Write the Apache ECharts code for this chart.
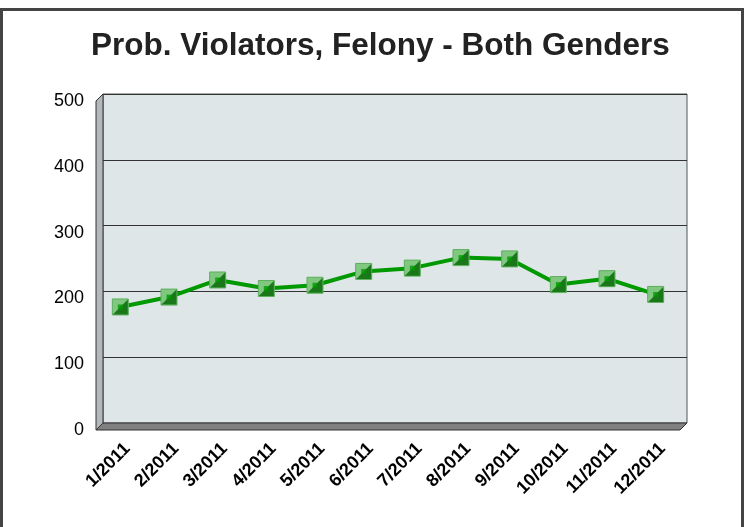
<!DOCTYPE html>
<html>
<head>
<meta charset="utf-8">
<script src="https://cdn.jsdelivr.net/npm/echarts@6/dist/echarts.min.js"></script>
<style>
  html, body { margin: 0; padding: 0; background: #fff; }
  #chart { width: 745px; height: 527px; }
</style>
</head>
<body>
<div id="chart"></div>
<script>
var months = ['1/2011', '2/2011', '3/2011', '4/2011', '5/2011', '6/2011',
              '7/2011', '8/2011', '9/2011', '10/2011', '11/2011', '12/2011'];
var violators = [187, 202, 228, 215, 220, 241, 246, 262, 260, 221, 230, 206];
var yTicks = [0, 100, 200, 300, 400, 500];

var chart = echarts.init(document.getElementById('chart'));

var fontFam = 'Liberation Sans, Arial, sans-serif';

var option = {
    backgroundColor: '#fff',
    animation: false,
    title: {
        text: 'Prob. Violators, Felony - Both Genders',
        left: 86,
        top: 25,
        textStyle: { fontFamily: fontFam, fontSize: 31.5, fontWeight: 'bold', color: '#222' }
    },
    grid: [
        // back wall
        { left: 103, top: 94, right: 58, bottom: 104, show: true, backgroundColor: '#dfe6e8', borderColor: '#555', borderWidth: 1, z: 0 },
        // front plane where data lives
        { left: 96, top: 101, right: 65, bottom: 97 }
    ],
    xAxis: [
        {
            gridIndex: 0, type: 'category', data: months,
            axisLine: { show: false }, axisTick: { show: false },
            axisLabel: {
                rotate: 45, margin: 23, interval: 0,
                fontFamily: fontFam, fontSize: 18, fontWeight: 'bold', color: '#000'
            }
        },
        { gridIndex: 1, type: 'category', data: months, show: false }
    ],
    yAxis: [
        {
            gridIndex: 0, type: 'value', min: yTicks[0], max: yTicks[yTicks.length - 1], interval: 100,
            axisLabel: { show: false }, axisLine: { show: false }, axisTick: { show: false },
            splitLine: { show: true, lineStyle: { color: '#333', width: 1 } }
        },
        {
            gridIndex: 1, type: 'value', min: yTicks[0], max: yTicks[yTicks.length - 1], interval: 100,
            splitLine: { show: false },
            axisLine: { show: false }, axisTick: { show: false },
            axisLabel: { margin: 12, fontFamily: fontFam, fontSize: 18, color: '#000' }
        }
    ],
    graphic: [
        // outer frame
        { type: 'rect', shape: { x: 1.5, y: 9.5, width: 741, height: 540 }, style: { fill: 'none', stroke: '#444', lineWidth: 3 }, z: 100 },
        // left side wall
        { type: 'polygon', shape: { points: [[96, 101], [103, 94], [103, 423], [96, 430]] }, style: { fill: '#b3b8ba', stroke: '#333', lineWidth: 1 }, z: 5 },
        // floor
        { type: 'polygon', shape: { points: [[96, 430], [103, 423], [687, 423], [680, 430]] }, style: { fill: '#808080', stroke: '#333', lineWidth: 1 }, z: 5 }
    ],
    series: [
        {
            type: 'line', xAxisIndex: 1, yAxisIndex: 1, data: violators,
            lineStyle: { color: '#009900', width: 4 },
            symbol: 'rect', symbolSize: 16,
            itemStyle: { color: '#80c880', borderColor: '#5cae5c', borderWidth: 1 },
            z: 10
        },
        {
            type: 'scatter', xAxisIndex: 1, yAxisIndex: 1, data: violators,
            symbol: 'path://M16,0 L16,16 L0,16 Z', symbolSize: 15,
            itemStyle: { color: '#006400' }, z: 11, silent: true
        },
        {
            type: 'scatter', xAxisIndex: 1, yAxisIndex: 1, data: violators,
            symbol: 'rect', symbolSize: 5,
            itemStyle: { color: '#009900' }, z: 12, silent: true
        }
    ]
};

chart.setOption(option);
</script>
</body>
</html>
